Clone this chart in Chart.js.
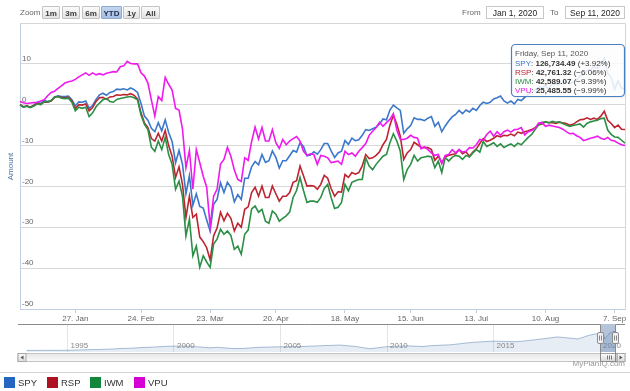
<!DOCTYPE html>
<html><head><meta charset="utf-8">
<script src="https://cdn.jsdelivr.net/npm/chart.js@4.4.0/dist/chart.umd.min.js"></script>
<style>
html,body{margin:0;padding:0;background:#fff;}
body{width:630px;height:391px;position:relative;overflow:hidden;font-family:"Liberation Sans",Arial,sans-serif;}
canvas{position:absolute;left:0;}
#main{top:0;}
#nav{top:324px;}
.t{position:absolute;white-space:nowrap;}
.btn{position:absolute;top:6px;height:13px;line-height:13px;border:1px solid #c2c2c2;background:linear-gradient(#fbfbfb,#e2e2e2);font-size:8px;font-weight:bold;color:#3a3a3a;text-align:center;box-sizing:border-box;border-radius:1px;}
.btn.sel{background:linear-gradient(#c3d5ee,#a5bfe3);border-color:#8ea9cf;color:#1d2d4a;}
.inp{position:absolute;top:6px;height:13px;line-height:12px;border:1px solid #c8c8c8;font-size:8.5px;color:#222;text-align:center;box-sizing:border-box;background:#fff;}
.lg{position:absolute;top:377px;width:11px;height:11px;}
.lt{position:absolute;top:376px;font-size:9.5px;color:#333;line-height:13px;}
</style></head>
<body>
<canvas id="main" width="630" height="324"></canvas>
<canvas id="nav" width="630" height="40"></canvas>
<div class="t" style="left:20px;top:7px;font-size:8px;color:#666;line-height:12px;">Zoom</div>
<div class="btn" style="left:42px;width:18px;">1m</div>
<div class="btn" style="left:62px;width:18px;">3m</div>
<div class="btn" style="left:82px;width:18px;">6m</div>
<div class="btn sel" style="left:101px;width:21px;">YTD</div>
<div class="btn" style="left:123px;width:17px;">1y</div>
<div class="btn" style="left:141px;width:19px;">All</div>
<div class="t" style="left:462px;top:7px;font-size:8px;color:#666;line-height:12px;">From</div>
<div class="inp" style="left:486px;width:58px;">Jan 1, 2020</div>
<div class="t" style="left:550px;top:7px;font-size:8px;color:#666;line-height:12px;">To</div>
<div class="inp" style="left:565px;width:60px;">Sep 11, 2020</div>
<div class="t" style="right:5px;top:359px;font-size:8px;color:#999;line-height:10px;">MyPlanIQ.com</div>
<div style="position:absolute;left:0;top:372px;width:630px;height:1px;background:#d4d4d4;"></div>
<div id="legend"></div>
<script>
const F = '"Liberation Sans", Arial, sans-serif';
Chart.defaults.font.family = F;

const year = 2020;
const dates = [
'01-02','01-03','01-06','01-07','01-08','01-09','01-10','01-13','01-14','01-15','01-16','01-17','01-21','01-22','01-23','01-24','01-27','01-28','01-29','01-30','01-31',
'02-03','02-04','02-05','02-06','02-07','02-10','02-11','02-12','02-13','02-14','02-18','02-19','02-20','02-21','02-24','02-25','02-26','02-27','02-28',
'03-02','03-03','03-04','03-05','03-06','03-09','03-10','03-11','03-12','03-13','03-16','03-17','03-18','03-19','03-20','03-23','03-24','03-25','03-26','03-27','03-30','03-31',
'04-01','04-02','04-03','04-06','04-07','04-08','04-09','04-13','04-14','04-15','04-16','04-17','04-20','04-21','04-22','04-23','04-24','04-27','04-28','04-29','04-30',
'05-01','05-04','05-05','05-06','05-07','05-08','05-11','05-12','05-13','05-14','05-15','05-18','05-19','05-20','05-21','05-22','05-26','05-27','05-28','05-29',
'06-01','06-02','06-03','06-04','06-05','06-08','06-09','06-10','06-11','06-12','06-15','06-16','06-17','06-18','06-19','06-22','06-23','06-24','06-25','06-26','06-29','06-30',
'07-01','07-02','07-06','07-07','07-08','07-09','07-10','07-13','07-14','07-15','07-16','07-17','07-20','07-21','07-22','07-23','07-24','07-27','07-28','07-29','07-30','07-31',
'08-03','08-04','08-05','08-06','08-07','08-10','08-11','08-12','08-13','08-14','08-17','08-18','08-19','08-20','08-21','08-24','08-25','08-26','08-27','08-28','08-31',
'09-01','09-02','09-03','09-04','09-08','09-09','09-10','09-11'];

const spy = [
0,-0.6,-0.3,-0.6,-0.1,0.6,0.3,1.0,0.8,1.0,1.9,2.2,2.0,2.0,2.1,1.2,-0.3,0.7,0.6,0.9,-0.9,
-0.2,1.3,2.4,2.8,2.3,3.0,3.2,3.8,3.7,3.9,3.6,4.1,3.7,3.0,0.3,-2.8,-3.8,-5.8,-6.6,
-4.4,-6.4,-3.7,-6.8,-9.0,-14.2,-11.2,-14.6,-21.8,-17.4,-24.6,-21.8,-24.9,-25.3,-28.2,-30.9,-24.4,-23.2,-19.1,-21.5,-19.0,-20.2,
-23.8,-22.0,-23.2,-18.0,-18.0,-15.2,-13.9,-14.7,-12.2,-14.1,-13.7,-11.3,-12.9,-15.5,-13.7,-13.7,-12.5,-11.2,-11.6,-9.3,-10.2,
-12.5,-12.3,-11.5,-12.1,-11.0,-9.5,-9.5,-11.3,-12.9,-11.8,-11.4,-8.8,-9.7,-8.2,-8.8,-8.6,-7.5,-6.1,-6.3,-5.9,
-5.5,-4.7,-3.5,-3.7,-1.3,-0.1,-0.8,-1.4,-7.0,-5.9,-5.1,-3.2,-3.6,-3.6,-3.9,-3.3,-2.9,-5.3,-4.3,-6.6,-5.2,-4.0,
-3.0,-2.4,-1.4,-2.2,-1.3,-1.8,-0.9,-1.4,-0.2,0.6,0.3,0.6,1.4,1.7,2.1,0.9,0.4,0.9,0.2,1.3,1.0,1.8,
2.6,3.0,3.6,4.3,4.3,4.6,3.8,5.2,5.0,5.0,5.4,5.6,5.2,5.5,5.9,7.1,7.4,8.3,8.6,9.3,8.9,
9.9,11.4,7.6,6.7,3.8,5.8,4.0,3.92];

const rsp = [
0,-0.5,-0.3,-0.6,-0.2,0.3,0.1,0.7,0.6,0.9,1.8,2.0,1.8,1.7,1.8,0.9,-1.0,0.0,-0.1,0.2,-1.5,
-0.7,0.8,1.7,1.8,1.3,1.9,2.0,2.4,2.3,2.5,2.4,2.7,2.3,1.4,-2.0,-4.5,-5.6,-8.3,-8.9,
-7.0,-8.9,-6.3,-10.0,-12.6,-17.8,-15.2,-19.5,-27.6,-22.4,-27.6,-26.8,-32.4,-33.5,-35.0,-38.0,-32.1,-30.2,-26.3,-28.4,-26.6,-27.8,
-30.9,-29.0,-30.0,-25.6,-25.0,-21.5,-20.2,-22.4,-19.9,-22.7,-22.7,-19.9,-21.8,-23.6,-22.4,-22.4,-21.5,-19.0,-18.6,-15.0,-17.4,
-19.9,-19.8,-19.9,-20.7,-19.5,-17.3,-18.0,-20.5,-22.4,-21.3,-21.4,-17.1,-17.8,-16.6,-17.0,-16.6,-15.0,-12.2,-13.2,-13.0,
-12.4,-11.5,-9.8,-8.5,-5.0,-2.6,-4.8,-7.7,-13.4,-11.8,-11.0,-9.2,-9.8,-10.4,-10.5,-10.5,-11.0,-13.6,-12.6,-14.2,-12.8,-12.4,
-12.2,-12.0,-11.0,-12.0,-11.5,-12.6,-11.6,-10.8,-9.5,-8.3,-9.0,-8.7,-8.2,-7.6,-7.9,-7.5,-7.6,-7.2,-7.6,-6.7,-7.0,-6.6,
-6.4,-6.1,-5.6,-4.9,-4.7,-4.2,-4.4,-4.4,-4.6,-4.3,-4.4,-4.6,-5.0,-4.8,-4.2,-3.7,-3.6,-3.2,-3.6,-3.3,-3.6,
-2.8,-1.6,-3.8,-4.6,-5.6,-5.0,-6.0,-6.06];

const iwm = [
0,-0.6,-0.4,-0.7,-0.3,0.2,0.0,0.8,0.7,1.0,1.8,2.0,1.6,1.5,1.6,0.6,-1.5,-0.6,-0.9,-0.6,-2.9,
-2.0,-0.5,0.4,1.2,1.5,0.8,0.6,1.3,1.5,1.7,1.9,2.0,1.7,1.2,-2.5,-4.8,-6.1,-10.4,-11.4,
-8.9,-11.0,-8.0,-12.2,-14.6,-20.7,-18.7,-22.4,-32.1,-28.0,-37.0,-34.6,-39.8,-37.0,-38.5,-39.8,-34.1,-32.9,-30.5,-31.7,-30.9,-32.0,
-35.4,-34.6,-36.6,-31.7,-30.7,-25.5,-24.8,-26.3,-25.6,-28.5,-29.0,-26.0,-26.8,-28.5,-27.8,-27.2,-26.3,-22.7,-21.0,-17.8,-21.0,
-23.9,-23.6,-23.6,-23.9,-22.7,-20.5,-19.5,-22.7,-25.4,-25.1,-23.9,-19.5,-21.1,-19.0,-18.6,-18.3,-18.3,-13.0,-15.0,-15.9,
-14.6,-13.6,-12.6,-12.2,-9.3,-7.1,-8.9,-11.4,-18.3,-15.9,-14.6,-12.4,-13.8,-13.0,-12.8,-12.6,-12.8,-15.4,-13.8,-16.6,-12.9,-13.8,
-12.9,-12.4,-12.6,-13.4,-12.4,-12.8,-11.8,-11.0,-11.6,-9.0,-10.2,-9.8,-9.3,-10.2,-9.6,-10.5,-10.0,-9.6,-10.2,-9.4,-9.8,-8.9,
-8.0,-7.3,-6.1,-5.0,-4.3,-4.2,-4.4,-4.1,-4.3,-4.2,-4.6,-5.0,-5.3,-5.1,-4.9,-4.7,-5.5,-4.6,-4.2,-4.0,-3.8,
-3.4,-3.3,-6.2,-7.3,-7.9,-8.0,-8.7,-9.39];

const vpu = [
0.8,0.5,0.3,0.4,0.5,0.6,0.9,1.2,2.2,3.0,3.3,4.0,4.6,5.3,5.6,5.8,6.2,6.8,7.3,7.8,7.2,
7.8,7.3,7.6,7.3,7.7,7.9,8.1,8.0,9.3,9.5,10.6,10.1,10.0,10.0,7.8,7.0,5.3,1.2,-2.8,
2.0,1.0,6.7,5.0,3.6,-0.9,-1.3,-6.0,-15.4,-11.2,-20.7,-11.0,-14.2,-17.5,-20.2,-29.8,-22.4,-20.7,-14.5,-13.4,-10.4,-12.6,
-16.0,-18.3,-18.8,-13.0,-13.6,-9.0,-5.5,-8.4,-5.6,-8.9,-8.9,-6.1,-9.3,-10.7,-8.5,-9.8,-8.9,-8.3,-7.8,-8.9,-11.4,
-12.4,-12.0,-12.2,-14.6,-12.4,-12.6,-13.0,-14.2,-14.0,-13.8,-14.6,-11.4,-12.2,-11.8,-12.6,-11.4,-10.5,-9.5,-7.5,-6.5,
-5.6,-4.3,-5.3,-4.4,-3.6,-2.2,-6.2,-8.5,-8.5,-8.2,-7.5,-8.0,-8.2,-10.8,-10.3,-11.0,-11.8,-12.4,-12.2,-14.4,-12.4,-12.2,
-11.0,-11.8,-11.0,-11.6,-11.4,-10.5,-10.6,-9.8,-8.5,-8.7,-7.3,-6.5,-7.7,-6.6,-7.5,-6.6,-6.2,-6.7,-6.1,-6.0,-5.6,-7.4,
-6.6,-6.3,-5.8,-4.5,-4.4,-5.3,-5.0,-5.2,-5.4,-5.6,-6.0,-6.6,-7.1,-7.0,-7.6,-8.0,-8.8,-8.5,-8.2,-8.0,-7.7,
-8.2,-8.5,-8.0,-8.7,-8.9,-9.4,-9.8,-9.99];

const seriesNames = ['SPY','RSP','IWM','VPU'];
const seriesData = [spy, rsp, iwm, vpu];
const lineColors = ['#3b78cc','#bd2430','#2b8f46','#ee1aee'];
const legendColors = ['#2367c0','#ad1220','#12873b','#d400d4'];
const yTicks = [-50,-40,-30,-20,-10,0,10];
const yMin = -50, yMax = 19.75;
const xTickDates = ['01-27','02-24','03-23','04-20','05-18','06-15','07-13','08-10','09-08'];
const xTickTexts = ['27. Jan','24. Feb','23. Mar','20. Apr','18. May','15. Jun','13. Jul','10. Aug','7. Sep'];
const tooltipTitle = 'Friday, Sep 11, 2020';
const tooltipValues = ['126,734.49','42,761.32','42,589.07','25,485.55'];

// navigator (long history of first series, $k)
const navX = [1993.08,1993.5,1994.0,1994.5,1995.0,1995.5,1996.0,1996.5,1997.0,1997.5,1998.0,1998.5,1999.0,1999.5,2000.0,2000.7,2001.0,2001.7,2002.0,2002.8,2003.2,2004.0,2005.0,2006.0,2007.0,2007.8,2008.5,2009.2,2010.0,2011.0,2011.7,2012.0,2013.0,2014.0,2015.0,2016.1,2017.0,2018.0,2018.97,2019.5,2020.0,2020.13,2020.22,2020.45,2020.67,2020.70];
const navY = [10,10.4,10.7,10.6,10.8,13.0,14.9,16.3,18.3,22.6,24.4,28.6,31.3,35.5,37.9,37.0,34.4,27.0,30.3,22.0,22.5,30.3,33.6,35.2,40.8,44.5,36.0,21.0,34.3,39.4,35.0,40.2,46.6,61.7,70.1,66.0,79.5,96.8,84.0,108.0,121.5,126.5,84.0,121.7,134.5,126.7];
const navYears = [1995,2000,2005,2010,2015,2020];
const navRange = [1992.68, 2021.17];
const navSel = [2020.0, 2020.70];

const fmtPct = v => (v >= 0 ? '+' : '\u2212') + Math.abs(v).toFixed(2) + '%';

function rr(ctx, x, y, w, h, r){
  ctx.moveTo(x+r,y); ctx.lineTo(x+w-r,y); ctx.arcTo(x+w,y,x+w,y+r,r);
  ctx.lineTo(x+w,y+h-r); ctx.arcTo(x+w,y+h,x+w-r,y+h,r);
  ctx.lineTo(x+r,y+h); ctx.arcTo(x,y+h,x,y+h-r,r);
  ctx.lineTo(x,y+r); ctx.arcTo(x,y,x+r,y,r); ctx.closePath();
}

const plotBorder = {
  id:'plotBorder',
  afterDraw(chart){
    const {ctx, chartArea:a} = chart;
    ctx.save();
    ctx.strokeStyle = '#d6d6d6'; ctx.lineWidth = 1;
    ctx.beginPath();
    ctx.moveTo(a.left, a.top - 0.5); ctx.lineTo(a.right + 0.5, a.top - 0.5); ctx.lineTo(a.right + 0.5, a.bottom);
    ctx.stroke();
    ctx.restore();
  }
};

const tooltipBox = {
  id:'tooltipBox',
  afterDraw(chart){
    const {ctx, chartArea:a} = chart;
    const w = 113, h = 52;
    const x = Math.round(a.right - w - 1) + 0.5, y = Math.round(a.top + 20) + 0.5;
    ctx.save();
    ctx.beginPath(); rr(ctx, x+1, y+1.5, w, h, 4); ctx.fillStyle = 'rgba(0,0,0,0.07)'; ctx.fill();
    ctx.beginPath(); rr(ctx, x, y, w, h, 4);
    ctx.fillStyle = 'rgba(255,255,255,0.86)'; ctx.fill();
    ctx.strokeStyle = '#4a7fc4'; ctx.lineWidth = 1.2; ctx.stroke();
    ctx.textBaseline = 'middle'; ctx.textAlign = 'left';
    ctx.font = '8px ' + F; ctx.fillStyle = '#555';
    ctx.fillText(tooltipTitle, x + 3.5, y + 9.5);
    seriesNames.forEach((n, k) => {
      let tx = x + 3.5; const ty = y + 19 + k * 9;
      const last = seriesData[k][seriesData[k].length - 1];
      ctx.font = '8px ' + F; ctx.fillStyle = lineColors[k];
      ctx.fillText(n, tx, ty); tx += ctx.measureText(n).width;
      ctx.fillStyle = '#333'; ctx.fillText(': ', tx, ty); tx += ctx.measureText(': ').width;
      ctx.font = 'bold 8px ' + F; ctx.fillText(tooltipValues[k], tx, ty); tx += ctx.measureText(tooltipValues[k]).width;
      ctx.font = '8px ' + F; ctx.fillText(' (' + fmtPct(last) + ')', tx, ty);
    });
    ctx.restore();
  }
};

new Chart(document.getElementById('main'), {
  type:'line',
  data:{
    labels: dates,
    datasets: seriesNames.map((n,k) => ({
      label:n, data:seriesData[k], borderColor:lineColors[k], backgroundColor:lineColors[k],
      borderWidth:1.6, pointRadius:0, tension:0, fill:false, order:3-k
    }))
  },
  options:{
    responsive:false, animation:false, devicePixelRatio:1,
    layout:{padding:{left:0,right:5,top:24,bottom:0}},
    plugins:{legend:{display:false}, tooltip:{enabled:false}},
    scales:{
      x:{
        type:'category', offset:false,
        grid:{display:true, drawOnChartArea:false, tickLength:4, color:'#C0D0E0'},
        border:{color:'#C0D0E0'},
        afterBuildTicks: s => { s.ticks = xTickDates.map(d => ({value: dates.indexOf(d)})); },
        afterFit: s => { s.height = 15; },
        ticks:{autoSkip:false, maxRotation:0, minRotation:0, padding:1, color:'#666', font:{size:8},
          callback: v => xTickTexts[xTickDates.indexOf(dates[v])]}
      },
      y:{
        min:yMin, max:yMax,
        afterBuildTicks: s => { s.ticks = yTicks.map(v => ({value:v})); },
        afterFit: s => { s.width = 20; },
        grid:{color:'#d8d8d8', drawTicks:false},
        border:{color:'#C0D0E0'},
        ticks:{mirror:true, padding:2, labelOffset:-5, color:'#666', font:{size:8}},
        title:{display:true, text:'Amount', color:'#4d759e', font:{size:8}, padding:{top:6,bottom:0}}
      }
    }
  },
  plugins:[plotBorder, tooltipBox]
});

const navDecor = {
  id:'navDecor',
  afterDraw(chart){
    const {ctx, chartArea:a, scales} = chart;
    const sx = scales.x;
    ctx.save();
    // year labels
    ctx.font = '8px ' + F; ctx.fillStyle = '#888'; ctx.textBaseline = 'middle'; ctx.textAlign = 'left';
    navYears.forEach(yv => { ctx.fillText(String(yv), sx.getPixelForValue(yv) + 3, a.bottom - 6); });
    const s0 = Math.round(sx.getPixelForValue(navSel[0])) + 0.5;
    const s1 = Math.round(sx.getPixelForValue(navSel[1])) + 0.5;
    // selected mask
    ctx.fillStyle = 'rgba(90,125,170,0.45)';
    ctx.fillRect(s0, a.top, s1 - s0, a.bottom - a.top);
    // scrollbar
    const sbTop = a.bottom + 1.5, sbH = 8;
    const g = ctx.createLinearGradient(0, sbTop, 0, sbTop + sbH);
    g.addColorStop(0, '#e6e6e6'); g.addColorStop(1, '#fafafa');
    ctx.fillStyle = g; ctx.fillRect(a.left, sbTop, a.right - a.left, sbH);
    ctx.strokeStyle = '#c4c4c4'; ctx.lineWidth = 1; ctx.strokeRect(a.left, sbTop, a.right - a.left, sbH);
    const btn = (bx, dir) => {
      const gb = ctx.createLinearGradient(0, sbTop, 0, sbTop + sbH);
      gb.addColorStop(0, '#fbfbfb'); gb.addColorStop(1, '#dcdcdc');
      ctx.fillStyle = gb; ctx.fillRect(bx, sbTop, 8, sbH);
      ctx.strokeStyle = '#a8a8a8'; ctx.strokeRect(bx, sbTop, 8, sbH);
      ctx.fillStyle = '#555'; ctx.beginPath();
      const cx = bx + 4, cy = sbTop + sbH / 2;
      ctx.moveTo(cx + dir * 1.5, cy - 2); ctx.lineTo(cx + dir * 1.5, cy + 2); ctx.lineTo(cx - dir * 1.5, cy); ctx.closePath(); ctx.fill();
    };
    btn(a.left, 1); btn(a.right - 8, -1);
    const thL = s0, thR = a.right - 8;
    const gt = ctx.createLinearGradient(0, sbTop, 0, sbTop + sbH);
    gt.addColorStop(0, '#fdfdfd'); gt.addColorStop(1, '#d8d8d8');
    ctx.fillStyle = gt; ctx.fillRect(thL, sbTop, thR - thL, sbH);
    ctx.strokeStyle = '#a0a0a0'; ctx.strokeRect(thL, sbTop, thR - thL, sbH);
    ctx.strokeStyle = '#777';
    const mid = Math.round((thL + thR) / 2) + 0.5;
    [-2, 0, 2].forEach(d => { ctx.beginPath(); ctx.moveTo(mid + d, sbTop + 2); ctx.lineTo(mid + d, sbTop + sbH - 2); ctx.stroke(); });
    // outline
    ctx.strokeStyle = '#8a8a8a'; ctx.lineWidth = 1;
    ctx.beginPath();
    ctx.moveTo(a.left, a.top + 0.5); ctx.lineTo(s0, a.top + 0.5); ctx.lineTo(s0, sbTop + sbH);
    ctx.lineTo(s1, sbTop + sbH); ctx.lineTo(s1, a.top + 0.5); ctx.lineTo(a.right, a.top + 0.5);
    ctx.stroke();
    // handles
    [s0, s1].forEach(hx => {
      const hy = a.top + 8.5;
      ctx.beginPath(); rr(ctx, hx - 3, hy, 6, 11, 1.5);
      ctx.fillStyle = '#f2f2f2'; ctx.fill(); ctx.strokeStyle = '#8c8c8c'; ctx.stroke();
      ctx.beginPath(); ctx.moveTo(hx - 1, hy + 3); ctx.lineTo(hx - 1, hy + 8); ctx.moveTo(hx + 1, hy + 3); ctx.lineTo(hx + 1, hy + 8);
      ctx.strokeStyle = '#888'; ctx.stroke();
    });
    ctx.restore();
  }
};

new Chart(document.getElementById('nav'), {
  type:'line',
  data:{datasets:[{data: navX.map((x,i) => ({x, y: navY[i]})), borderColor:'rgba(69,114,167,0.45)', borderWidth:1,
    backgroundColor:'rgba(69,114,167,0.13)', fill:'start', pointRadius:0, tension:0}]},
  options:{
    responsive:false, animation:false, devicePixelRatio:1,
    layout:{padding:{left:18,right:5,top:0,bottom:12}},
    plugins:{legend:{display:false}, tooltip:{enabled:false}},
    scales:{
      x:{type:'linear', min:navRange[0], max:navRange[1],
        afterBuildTicks: s => { s.ticks = navYears.map(v => ({value:v})); },
        afterFit: s => { s.height = 0; },
        ticks:{display:false}, border:{display:false},
        grid:{color:'#e4e4e4', drawTicks:false}},
      y:{display:false, min:0, max:180}
    }
  },
  plugins:[navDecor]
});

// legend
const lg = document.getElementById('legend');
const legendX = [4, 47, 90, 134];
seriesNames.forEach((n,k) => {
  const sq = document.createElement('div'); sq.className = 'lg';
  sq.style.left = legendX[k] + 'px'; sq.style.background = legendColors[k];
  const tx = document.createElement('div'); tx.className = 'lt';
  tx.style.left = (legendX[k] + 14) + 'px'; tx.textContent = n;
  lg.appendChild(sq); lg.appendChild(tx);
});
</script>
</body></html>
